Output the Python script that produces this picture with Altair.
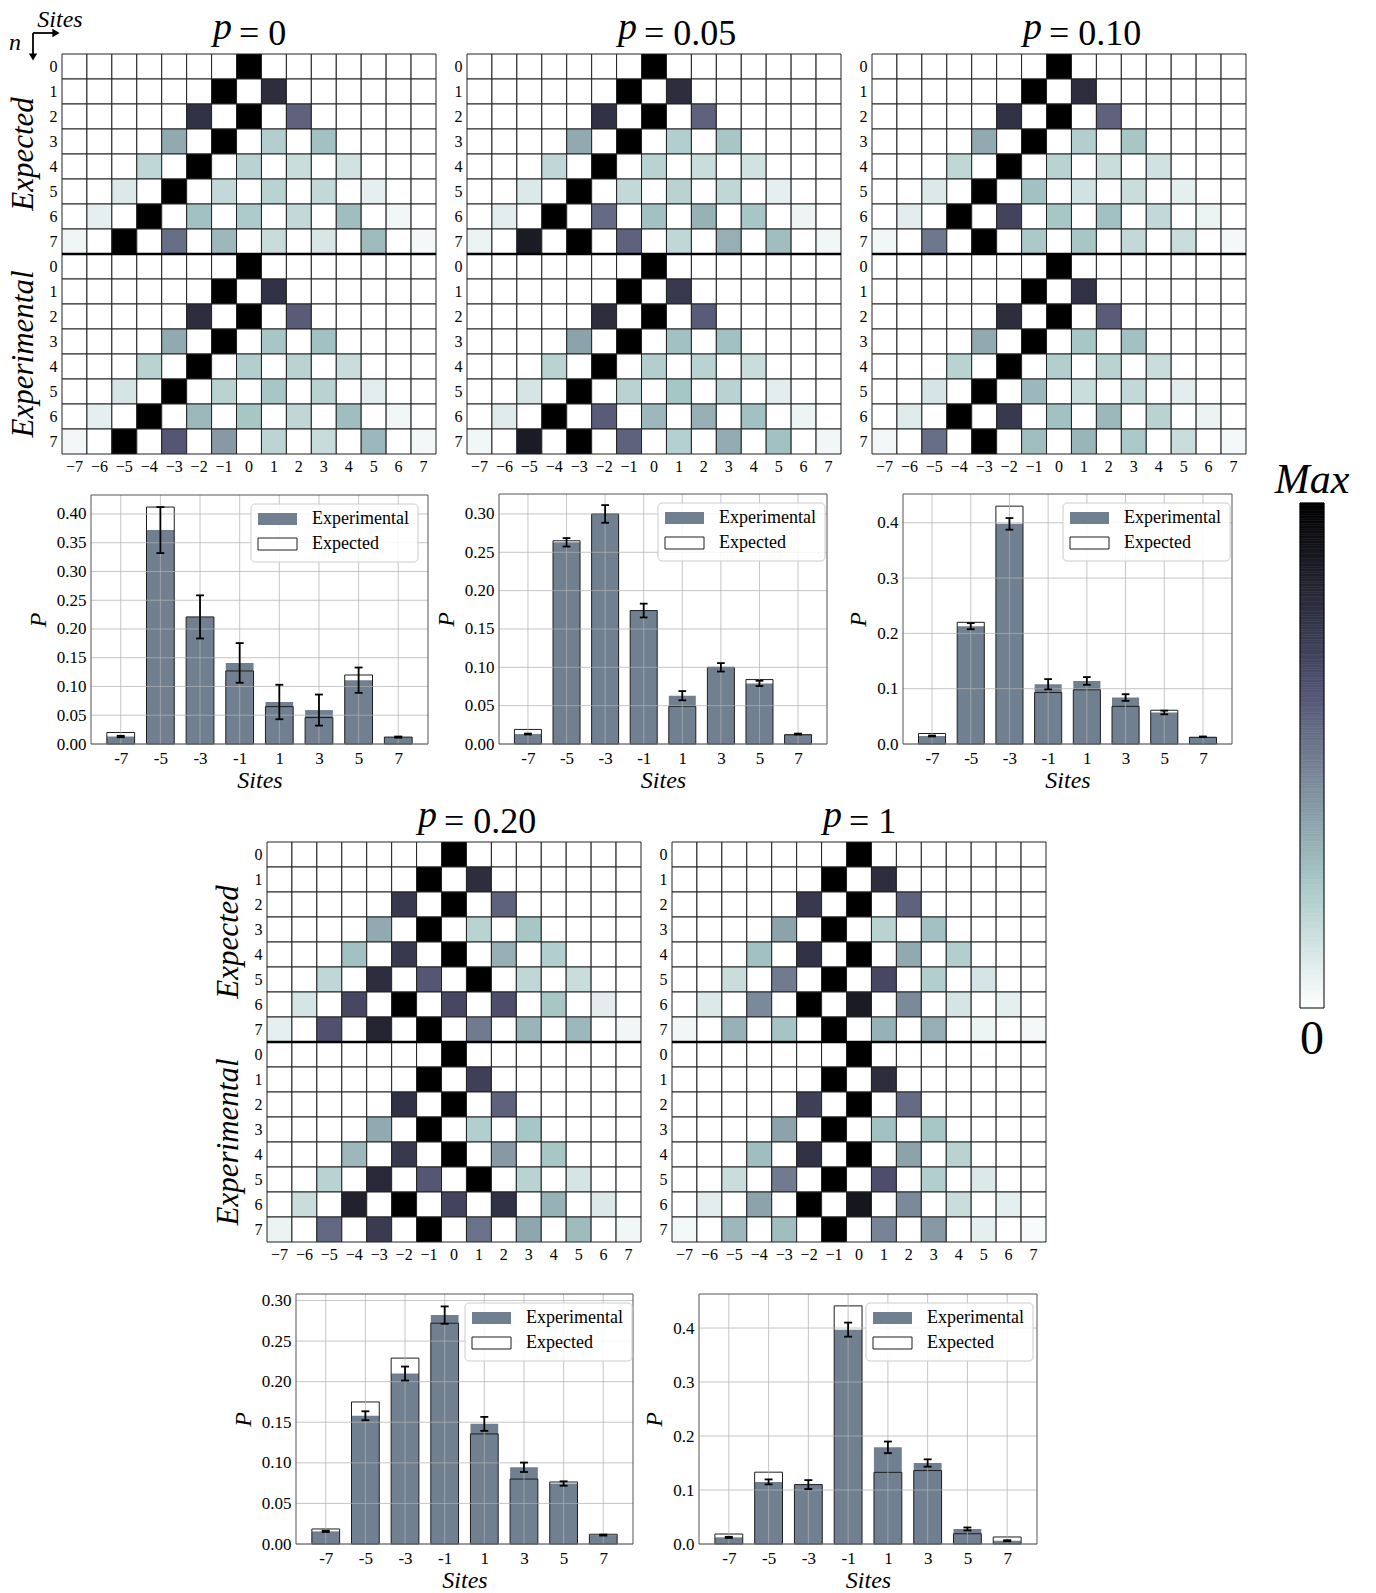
import altair as alt
import pandas as pd
import numpy as np

FONT = "Liberation Serif"
SITES = list(range(-7, 8))
BAR_SITES = [-7, -5, -3, -1, 1, 3, 5, 7]

# ---------------- heat-map data (each row normalised to its maximum) ----------------
P0_EXPECTED = [
    [0, 0, 0, 0, 0, 0, 0, 1, 0, 0, 0, 0, 0, 0, 0],
    [0, 0, 0, 0, 0, 0, 1, 0, .8, 0, 0, 0, 0, 0, 0],
    [0, 0, 0, 0, 0, .78, 0, 1, 0, .58, 0, 0, 0, 0, 0],
    [0, 0, 0, 0, .35, 0, 1, 0, .22, 0, .27, 0, 0, 0, 0],
    [0, 0, 0, .18, 0, 1, 0, .2, 0, .15, 0, .13, 0, 0, 0],
    [0, 0, .1, 0, 1, 0, .17, 0, .2, 0, .17, 0, .07, 0, 0],
    [0, .07, 0, 1, 0, .27, 0, .23, 0, .17, 0, .28, 0, .04, 0],
    [.044, 0, 1, 0, .54, 0, .3, 0, .16, 0, .11, 0, .29, 0, .03],
]
P0_EXPERIMENTAL = [
    [0, 0, 0, 0, 0, 0, 0, 1, 0, 0, 0, 0, 0, 0, 0],
    [0, 0, 0, 0, 0, 0, 1, 0, .78, 0, 0, 0, 0, 0, 0],
    [0, 0, 0, 0, 0, .8, 0, 1, 0, .6, 0, 0, 0, 0, 0],
    [0, 0, 0, 0, .35, 0, 1, 0, .25, 0, .27, 0, 0, 0, 0],
    [0, 0, 0, .2, 0, 1, 0, .22, 0, .2, 0, .15, 0, 0, 0],
    [0, 0, .12, 0, 1, 0, .2, 0, .25, 0, .2, 0, .08, 0, 0],
    [0, .07, 0, 1, 0, .3, 0, .25, 0, .18, 0, .28, 0, .04, 0],
    [.035, 0, 1, 0, .62, 0, .4, 0, .19, 0, .16, 0, .3, 0, .035],
]
P05_EXPECTED = [
    [0, 0, 0, 0, 0, 0, 0, 1, 0, 0, 0, 0, 0, 0, 0],
    [0, 0, 0, 0, 0, 0, 1, 0, .8, 0, 0, 0, 0, 0, 0],
    [0, 0, 0, 0, 0, .78, 0, 1, 0, .58, 0, 0, 0, 0, 0],
    [0, 0, 0, 0, .35, 0, 1, 0, .22, 0, .25, 0, 0, 0, 0],
    [0, 0, 0, .18, 0, 1, 0, .2, 0, .15, 0, .13, 0, 0, 0],
    [0, 0, .1, 0, 1, 0, .17, 0, .2, 0, .18, 0, .07, 0, 0],
    [0, .08, 0, 1, 0, .55, 0, .27, 0, .32, 0, .25, 0, .05, 0],
    [.06, 0, .88, 0, 1, 0, .58, 0, .18, 0, .33, 0, .28, 0, .04],
]
P05_EXPERIMENTAL = [
    [0, 0, 0, 0, 0, 0, 0, 1, 0, 0, 0, 0, 0, 0, 0],
    [0, 0, 0, 0, 0, 0, 1, 0, .75, 0, 0, 0, 0, 0, 0],
    [0, 0, 0, 0, 0, .8, 0, 1, 0, .6, 0, 0, 0, 0, 0],
    [0, 0, 0, 0, .37, 0, 1, 0, .27, 0, .27, 0, 0, 0, 0],
    [0, 0, 0, .2, 0, 1, 0, .22, 0, .2, 0, .15, 0, 0, 0],
    [0, 0, .12, 0, 1, 0, .2, 0, .25, 0, .2, 0, .08, 0, 0],
    [0, .09, 0, 1, 0, .6, 0, .3, 0, .33, 0, .27, 0, .05, 0],
    [.04, 0, .88, 0, 1, 0, .58, 0, .21, 0, .34, 0, .27, 0, .04],
]
P10_EXPECTED = [
    [0, 0, 0, 0, 0, 0, 0, 1, 0, 0, 0, 0, 0, 0, 0],
    [0, 0, 0, 0, 0, 0, 1, 0, .8, 0, 0, 0, 0, 0, 0],
    [0, 0, 0, 0, 0, .78, 0, 1, 0, .58, 0, 0, 0, 0, 0],
    [0, 0, 0, 0, .35, 0, 1, 0, .22, 0, .25, 0, 0, 0, 0],
    [0, 0, 0, .18, 0, 1, 0, .2, 0, .15, 0, .13, 0, 0, 0],
    [0, 0, .1, 0, 1, 0, .27, 0, .13, 0, .15, 0, .07, 0, 0],
    [0, .08, 0, 1, 0, .7, 0, .25, 0, .27, 0, .17, 0, .06, 0],
    [.04, 0, .51, 0, 1, 0, .24, 0, .25, 0, .17, 0, .15, 0, .03],
]
P10_EXPERIMENTAL = [
    [0, 0, 0, 0, 0, 0, 0, 1, 0, 0, 0, 0, 0, 0, 0],
    [0, 0, 0, 0, 0, 0, 1, 0, .78, 0, 0, 0, 0, 0, 0],
    [0, 0, 0, 0, 0, .8, 0, 1, 0, .6, 0, 0, 0, 0, 0],
    [0, 0, 0, 0, .35, 0, 1, 0, .25, 0, .27, 0, 0, 0, 0],
    [0, 0, 0, .2, 0, 1, 0, .22, 0, .2, 0, .15, 0, 0, 0],
    [0, 0, .12, 0, 1, 0, .3, 0, .15, 0, .17, 0, .08, 0, 0],
    [0, .09, 0, 1, 0, .75, 0, .27, 0, .3, 0, .2, 0, .06, 0],
    [.035, 0, .54, 0, 1, 0, .28, 0, .31, 0, .24, 0, .15, 0, .03],
]
P20_EXPECTED = [
    [0, 0, 0, 0, 0, 0, 0, 1, 0, 0, 0, 0, 0, 0, 0],
    [0, 0, 0, 0, 0, 0, 1, 0, .8, 0, 0, 0, 0, 0, 0],
    [0, 0, 0, 0, 0, .75, 0, 1, 0, .58, 0, 0, 0, 0, 0],
    [0, 0, 0, 0, .35, 0, 1, 0, .2, 0, .25, 0, 0, 0, 0],
    [0, 0, 0, .27, 0, .75, 0, 1, 0, .33, 0, .22, 0, 0, 0],
    [0, 0, .18, 0, .8, 0, .62, 0, 1, 0, .18, 0, .15, 0, 0],
    [0, .12, 0, .68, 0, 1, 0, .68, 0, .65, 0, .25, 0, .08, 0],
    [.07, 0, .64, 0, .84, 0, 1, 0, .5, 0, .31, 0, .3, 0, .04],
]
P20_EXPERIMENTAL = [
    [0, 0, 0, 0, 0, 0, 0, 1, 0, 0, 0, 0, 0, 0, 0],
    [0, 0, 0, 0, 0, 0, 1, 0, .72, 0, 0, 0, 0, 0, 0],
    [0, 0, 0, 0, 0, .78, 0, 1, 0, .58, 0, 0, 0, 0, 0],
    [0, 0, 0, 0, .35, 0, 1, 0, .22, 0, .25, 0, 0, 0, 0],
    [0, 0, 0, .3, 0, .75, 0, 1, 0, .4, 0, .25, 0, 0, 0],
    [0, 0, .2, 0, .82, 0, .62, 0, 1, 0, .2, 0, .12, 0, 0],
    [0, .15, 0, .85, 0, 1, 0, .7, 0, .78, 0, .32, 0, .1, 0],
    [.057, 0, .56, 0, .74, 0, 1, 0, .53, 0, .36, 0, .29, 0, .04],
]
P1_EXPECTED = [
    [0, 0, 0, 0, 0, 0, 0, 1, 0, 0, 0, 0, 0, 0, 0],
    [0, 0, 0, 0, 0, 0, 1, 0, .8, 0, 0, 0, 0, 0, 0],
    [0, 0, 0, 0, 0, .75, 0, 1, 0, .58, 0, 0, 0, 0, 0],
    [0, 0, 0, 0, .37, 0, 1, 0, .2, 0, .27, 0, 0, 0, 0],
    [0, 0, 0, .27, 0, .78, 0, 1, 0, .35, 0, .22, 0, 0, 0],
    [0, 0, .15, 0, .5, 0, 1, 0, .68, 0, .22, 0, .12, 0, 0],
    [0, .1, 0, .45, 0, 1, 0, .88, 0, .45, 0, .12, 0, .07, 0],
    [.04, 0, .32, 0, .26, 0, 1, 0, .32, 0, .33, 0, .05, 0, .03],
]
P1_EXPERIMENTAL = [
    [0, 0, 0, 0, 0, 0, 0, 1, 0, 0, 0, 0, 0, 0, 0],
    [0, 0, 0, 0, 0, 0, 1, 0, .8, 0, 0, 0, 0, 0, 0],
    [0, 0, 0, 0, 0, .72, 0, 1, 0, .55, 0, 0, 0, 0, 0],
    [0, 0, 0, 0, .37, 0, 1, 0, .27, 0, .25, 0, 0, 0, 0],
    [0, 0, 0, .28, 0, .78, 0, 1, 0, .37, 0, .2, 0, 0, 0],
    [0, 0, .15, 0, .5, 0, 1, 0, .65, 0, .22, 0, .1, 0, 0],
    [0, .08, 0, .37, 0, 1, 0, .9, 0, .45, 0, .15, 0, .07, 0],
    [.033, 0, .3, 0, .28, 0, 1, 0, .47, 0, .4, 0, .07, 0, .02],
]

# ---------------- final-step distributions (bar charts) ----------------
P0_BAR_EXP = [0.013, 0.372, 0.221, 0.141, 0.073, 0.059, 0.111, 0.012]
P0_BAR_THEORY = [0.020, 0.412, 0.221, 0.127, 0.065, 0.046, 0.120, 0.012]
P0_BAR_ERR = [0.0012, 0.040, 0.0375, 0.0345, 0.030, 0.027, 0.022, 0.001]

P05_BAR_EXP = [0.013, 0.263, 0.300, 0.174, 0.063, 0.100, 0.079, 0.013]
P05_BAR_THEORY = [0.019, 0.265, 0.300, 0.174, 0.049, 0.100, 0.084, 0.012]
P05_BAR_ERR = [0.0006, 0.0055, 0.0115, 0.009, 0.006, 0.0055, 0.0035, 0.0006]

P10_BAR_EXP = [0.0145, 0.213, 0.398, 0.108, 0.114, 0.084, 0.057, 0.013]
P10_BAR_THEORY = [0.019, 0.220, 0.430, 0.093, 0.098, 0.068, 0.061, 0.012]
P10_BAR_ERR = [0.0008, 0.0055, 0.0105, 0.0093, 0.007, 0.006, 0.0033, 0.0006]

P20_BAR_EXP = [0.0156, 0.158, 0.210, 0.282, 0.148, 0.0945, 0.0745, 0.011]
P20_BAR_THEORY = [0.0185, 0.175, 0.229, 0.272, 0.1356, 0.080, 0.0764, 0.012]
P20_BAR_ERR = [0.0008, 0.0055, 0.0086, 0.0107, 0.0086, 0.0058, 0.0027, 0.0006]

P1_BAR_EXP = [0.0123, 0.115, 0.110, 0.397, 0.179, 0.150, 0.0278, 0.006]
P1_BAR_THEORY = [0.0185, 0.133, 0.110, 0.441, 0.1327, 0.136, 0.019, 0.013]
P1_BAR_ERR = [0.001, 0.0046, 0.0083, 0.013, 0.0108, 0.0068, 0.0028, 0.001]

TICKS_05 = [0.0, 0.05, 0.10, 0.15, 0.20, 0.25, 0.30]
TICKS_05_40 = [0.0, 0.05, 0.10, 0.15, 0.20, 0.25, 0.30, 0.35, 0.40]
TICKS_1 = [0.0, 0.1, 0.2, 0.3, 0.4]

# bone_r colour map
CMAP_DOMAIN = [0, 0.125, 0.254, 0.375, 0.5, 0.635, 0.75, 0.875, 1]
CMAP_RANGE = ["#ffffff", "#d3e3e3", "#a6c6c6", "#8ba1ab", "#707b8f",
              "#515171", "#38384e", "#1c1c27", "#000000"]
BAR_COLOR = "#708090"

# whole picture is one view; panel boxes in page pixels (x0, y0, x1, y1)
VIEW_W, VIEW_H = 1360, 1585
MARGIN = 8

ONE = pd.DataFrame({"a": [0]})


def V(v):
    return v - MARGIN


def cmap_scale():
    return alt.Scale(domain=CMAP_DOMAIN, range=CMAP_RANGE, interpolate="rgb")


def txt(text, x, y, size, italic=False, align="center", baseline="alphabetic", angle=0, color="black"):
    kw = dict(text=text, font=FONT, fontSize=size, align=align, baseline=baseline, color=color)
    if italic:
        kw["fontStyle"] = "italic"
    if angle:
        kw["angle"] = angle
    return alt.Chart(ONE).mark_text(**kw).encode(x=alt.value(V(x)), y=alt.value(V(y)))


def rule(x, y, x2=None, y2=None, width=1.8, color="black"):
    enc = dict(x=alt.value(V(x)), y=alt.value(V(y)))
    if x2 is not None:
        enc["x2"] = alt.value(V(x2))
    if y2 is not None:
        enc["y2"] = alt.value(V(y2))
    return alt.Chart(ONE).mark_rule(color=color, strokeWidth=width).encode(**enc)


def heatmap(expected, experimental, label, box, left_labels=False, corner=False):
    x0, y0, x1, y1 = box
    rows = []
    for half, mat in (("E", expected), ("X", experimental)):
        for n, vals in enumerate(mat):
            for s, v in zip(SITES, vals):
                rows.append({"row": f"{half}{n}", "site": s, "value": v})
    df = pd.DataFrame(rows)
    order = [f"E{n}" for n in range(8)] + [f"X{n}" for n in range(8)]
    cells = alt.Chart(df).mark_rect(stroke="#222222", strokeWidth=1).encode(
        x=alt.X("site:O", sort=SITES,
                scale=alt.Scale(paddingInner=0, paddingOuter=0, range=[V(x0), V(x1)]),
                axis=alt.Axis(title=None, orient="bottom", offset=V(y1) - VIEW_H,
                              labelAngle=0, ticks=False, domain=False, grid=False,
                              labelExpr="replace(datum.label, '-', '\u2212')",
                              labelFont=FONT, labelFontSize=16, labelColor="black",
                              labelPadding=4)),
        y=alt.Y("row:O", sort=order,
                scale=alt.Scale(paddingInner=0, paddingOuter=0, range=[V(y0), V(y1)]),
                axis=alt.Axis(title=None, orient="left", offset=-V(x0),
                              ticks=False, domain=False, grid=False,
                              labelExpr="substring(datum.label, 1)",
                              labelFont=FONT, labelFontSize=16, labelColor="black",
                              labelPadding=5)),
        fill=alt.Fill("value:Q", scale=cmap_scale(), legend=None),
    )
    cx = (x0 + x1) / 2
    layers = [cells,
              rule(x0, (y0 + y1) / 2, x2=x1, width=2.5),
              txt("p", cx - 36, y0 - 15, 38, italic=True, align="left"),
              txt("= " + label, cx - 10, y0 - 9, 36, align="left")]
    if left_labels:
        qh = (y1 - y0) / 4
        layers += [txt("Expected", x0 - 38, y0 + qh, 31, italic=True, baseline="middle", angle=270),
                   txt("Experimental", x0 - 38, y0 + 3 * qh, 31, italic=True, baseline="middle", angle=270)]
    if corner:
        layers += [
            txt("Sites", x0 - 2, y0 - 27, 24, italic=True),
            txt("n", x0 - 47, y0 - 4, 24, italic=True),
            rule(x0 - 29, y0 - 21, y2=y0 + 1),
            rule(x0 - 29, y0 - 21, x2=x0 - 8),
            alt.Chart(ONE).mark_point(shape="triangle-down", filled=True, size=70, color="black", opacity=1).encode(
                x=alt.value(V(x0 - 29)), y=alt.value(V(y0 + 3))),
            alt.Chart(ONE).mark_point(shape="triangle-right", filled=True, size=70, color="black", opacity=1).encode(
                x=alt.value(V(x0 - 6)), y=alt.value(V(y0 - 21))),
        ]
    return alt.layer(*layers)


def barchart(exp, theory, err, ymax, yticks, yfmt, box, legend_gap):
    x0, y0, x1, y1 = box
    df = pd.DataFrame({"site": BAR_SITES, "exp": exp, "theory": theory, "err": err})
    df["x0"] = df["site"] - 0.7
    df["x1"] = df["site"] + 0.7
    df["c0"] = df["site"] - 0.2
    df["c1"] = df["site"] + 0.2
    df["lo"] = df["exp"] - df["err"]
    df["hi"] = df["exp"] + df["err"]
    base = alt.Chart(df)
    xs = alt.Scale(domain=[-8.5, 8.5], nice=False, zero=False, range=[V(x0), V(x1)])
    ys = alt.Scale(domain=[0, ymax], nice=False, zero=True, range=[V(y1), V(y0)])
    xaxis = alt.Axis(values=BAR_SITES, labelExpr="'' + datum.value", title="Sites",
                     orient="bottom", offset=V(y1) - VIEW_H,
                     ticks=False, domain=False, grid=False, labelAngle=0,
                     labelFont=FONT, labelFontSize=17, labelColor="black", labelPadding=6,
                     titleFont=FONT, titleFontSize=24, titleFontStyle="italic",
                     titleFontWeight="normal", titleColor="black", titlePadding=2)
    yaxis = alt.Axis(values=yticks, format=yfmt, title="P", orient="left", offset=-V(x0),
                     ticks=False, domain=False, grid=False,
                     labelFont=FONT, labelFontSize=17, labelColor="black", labelPadding=5,
                     titleFont=FONT, titleFontSize=24, titleFontStyle="italic",
                     titleFontWeight="normal", titleColor="black", titlePadding=6)
    X = lambda f: alt.X(f, scale=xs, axis=xaxis)
    Y = lambda f: alt.Y(f, scale=ys, axis=yaxis)
    bars = base.mark_bar(color=BAR_COLOR).encode(
        x=X("x0:Q"), x2="x1:Q", y=Y("exp:Q"), y2=alt.datum(0))
    outline = base.mark_bar(fill="transparent", stroke="#1e1e1e", strokeWidth=1).encode(
        x=X("x0:Q"), x2="x1:Q", y=Y("theory:Q"), y2=alt.datum(0))
    gy = alt.Chart(pd.DataFrame({"t": yticks})).mark_rule(
        color="#b0b0b0", strokeWidth=0.9, opacity=0.8).encode(
        y=Y("t:Q"), x=alt.value(V(x0)), x2=alt.value(V(x1)))
    gx = alt.Chart(pd.DataFrame({"s": BAR_SITES})).mark_rule(
        color="#b0b0b0", strokeWidth=0.9, opacity=0.8).encode(
        x=X("s:Q"), y=alt.value(V(y0)), y2=alt.value(V(y1)))
    stem = base.mark_rule(color="black", strokeWidth=1.8).encode(
        x=X("site:Q"), y=Y("lo:Q"), y2="hi:Q")
    cap_lo = base.mark_rule(color="black", strokeWidth=1.8).encode(
        x=X("c0:Q"), x2="c1:Q", y=Y("lo:Q"))
    cap_hi = base.mark_rule(color="black", strokeWidth=1.8).encode(
        x=X("c0:Q"), x2="c1:Q", y=Y("hi:Q"))
    frame = alt.Chart(ONE).mark_rect(fill="transparent", stroke="#555555", strokeWidth=1).encode(
        x=alt.value(V(x0)), x2=alt.value(V(x1)), y=alt.value(V(y0)), y2=alt.value(V(y1)))
    L = x1 - legend_gap - 167
    box_r = alt.Chart(ONE).mark_rect(fill="white", fillOpacity=0.85, stroke="#cccccc",
                                     strokeWidth=1, cornerRadius=4).encode(
        x=alt.value(V(L)), x2=alt.value(V(L + 167)), y=alt.value(V(y0 + 9)), y2=alt.value(V(y0 + 67)))
    patch1 = alt.Chart(ONE).mark_rect(fill=BAR_COLOR).encode(
        x=alt.value(V(L + 7)), x2=alt.value(V(L + 46)), y=alt.value(V(y0 + 18)), y2=alt.value(V(y0 + 30)))
    patch2 = alt.Chart(ONE).mark_rect(fill="white", stroke="#1e1e1e", strokeWidth=1).encode(
        x=alt.value(V(L + 7)), x2=alt.value(V(L + 46)), y=alt.value(V(y0 + 43)), y2=alt.value(V(y0 + 55)))
    t1 = txt("Experimental", L + 61, y0 + 24, 18, align="left", baseline="middle")
    t2 = txt("Expected", L + 61, y0 + 49, 18, align="left", baseline="middle")
    return alt.layer(bars, outline, gy, gx, stem, cap_lo, cap_hi, frame,
                     box_r, patch1, patch2, t1, t2)


panels = [
    heatmap(P0_EXPECTED, P0_EXPERIMENTAL, "0", (62, 54, 436, 454), left_labels=True, corner=True),
    heatmap(P05_EXPECTED, P05_EXPERIMENTAL, "0.05", (467, 54, 841, 454)),
    heatmap(P10_EXPECTED, P10_EXPERIMENTAL, "0.10", (872, 54, 1246, 454)),
    heatmap(P20_EXPECTED, P20_EXPERIMENTAL, "0.20", (267, 842, 641, 1242), left_labels=True),
    heatmap(P1_EXPECTED, P1_EXPERIMENTAL, "1", (672, 842, 1046, 1242)),
    barchart(P0_BAR_EXP, P0_BAR_THEORY, P0_BAR_ERR, 0.433, TICKS_05_40, ".2f", (91, 495, 428, 744), 10),
    barchart(P05_BAR_EXP, P05_BAR_THEORY, P05_BAR_ERR, 0.326, TICKS_05, ".2f", (499, 494, 827, 744), 2),
    barchart(P10_BAR_EXP, P10_BAR_THEORY, P10_BAR_ERR, 0.452, TICKS_1, ".1f", (903, 494, 1232, 744), 2),
    barchart(P20_BAR_EXP, P20_BAR_THEORY, P20_BAR_ERR, 0.308, TICKS_05, ".2f", (296, 1294, 633, 1544), 1),
    barchart(P1_BAR_EXP, P1_BAR_THEORY, P1_BAR_ERR, 0.463, TICKS_1, ".1f", (699, 1294, 1037, 1544), 4),
]

# colour bar
CB_BOX = (1300, 503, 1324, 1008)
cb = np.linspace(0, 1, 201)
CB_DF = pd.DataFrame({"v0": cb[:-1], "v1": cb[1:], "v": (cb[:-1] + cb[1:]) / 2})
cbx0, cby0, cbx1, cby1 = CB_BOX
cbar_rect = alt.Chart(CB_DF).mark_rect(strokeWidth=0.6).encode(
    x=alt.value(V(cbx0)), x2=alt.value(V(cbx1)),
    y=alt.Y("v0:Q", scale=alt.Scale(domain=[0, 1], nice=False, range=[V(cby1), V(cby0)]), axis=None),
    y2="v1:Q",
    fill=alt.Fill("v:Q", scale=cmap_scale(), legend=None),
    stroke=alt.Stroke("v:Q", scale=cmap_scale(), legend=None))
cbar_frame = alt.Chart(ONE).mark_rect(fill="transparent", stroke="black", strokeWidth=1).encode(
    x=alt.value(V(cbx0)), x2=alt.value(V(cbx1)), y=alt.value(V(cby0)), y2=alt.value(V(cby1)))
cbar = alt.layer(cbar_rect, cbar_frame,
                 txt("Max", (cbx0 + cbx1) / 2, cby0 - 10, 42, italic=True),
                 txt("0", (cbx0 + cbx1) / 2, cby1 + 46, 48))

chart = alt.layer(*panels, cbar).resolve_scale(
    x="independent", y="independent").resolve_axis(
    x="independent", y="independent").properties(
    width=VIEW_W, height=VIEW_H, padding=0
).configure_view(strokeWidth=0).configure_axis(grid=False)

chart.save("out.html", embed_options={"renderer": "svg", "actions": False})
